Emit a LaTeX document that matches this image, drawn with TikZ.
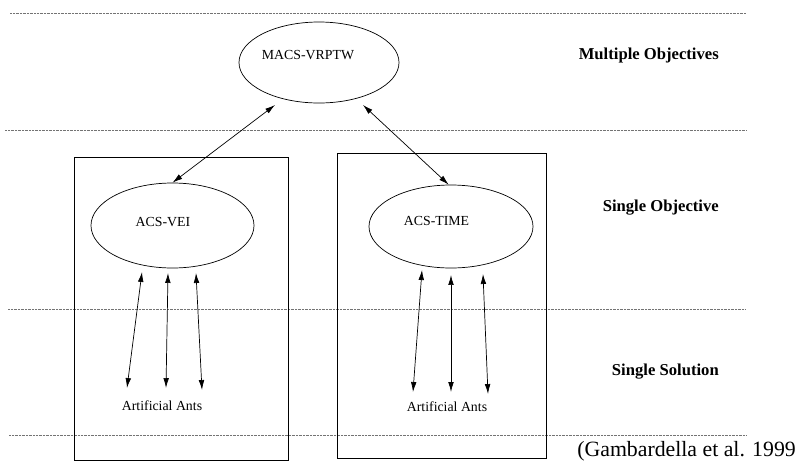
\documentclass[tikz,border=0pt]{standalone}
\usepackage{fontspec}
\setmainfont{Liberation Serif}
\usepackage{xcolor}
\usetikzlibrary{arrows.meta,positioning,shapes}

\tikzset{
    oval/.style={draw, ellipse, line width=0.6pt, inner sep=0pt},
    panel/.style={draw, line width=0.75pt, inner sep=0pt},
    level/.style={dash pattern=on 0.6pt off 0.6pt, line width=0.55pt, color=black!55},
    link/.style={{Latex[length=8.5pt,width=4.8pt]}-{Latex[length=8.5pt,width=4.8pt]}, line width=0.6pt},
    tag/.style={font=\fontsize{14.2}{16}\selectfont\bfseries, anchor=east, inner sep=0pt},
    txt/.style={font=\fontsize{11.8}{13}\selectfont, inner sep=0pt}
}

\begin{document}
\begin{tikzpicture}[x=0.03cm, y=-0.03cm]
                \useasboundingbox (0,0) rectangle (798,465);

                % levels
                \foreach \yy/\xs in {13/10, 130/5, 309/8, 435/9}
                    \draw[level] (\xs,\yy) -- (746,\yy);

                \node [panel, minimum width=6.42cm, minimum height=9.09cm]
                                        (boxL) at (181,308.5) {};
                \node [panel, minimum width=6.27cm, minimum height=9.15cm]
                                        (boxR) at (441.5,305.5) {};

                \node [oval, minimum width=4.8cm, minimum height=2.43cm]
                                        (macs) at (319,62.5) {};
                \node [txt] (macstxt) at (308,55) {MACS-VRPTW};

                \node [oval, minimum width=4.89cm, minimum height=2.55cm]
                                        (vei) at (172.5,225.5) {};
                \node [txt] (veitxt) at (163,222) {ACS-VEI};

                \node [oval, minimum width=4.92cm, minimum height=2.49cm]
                                        (time) at (451,226.5) {};
                \node [txt] (timetxt) at (436.5,221) {ACS-TIME};

                \node [txt] (antsL) at (162,406) {Artificial Ants};
                \node [txt] (antsR) at (447,407) {Artificial Ants};

                \node [tag] (multi) at (719,55) {Multiple Objectives};
                \node [tag] (single) at (719,208) {Single Objective};
                \node [tag] (sol) at (719,372) {Single Solution};
                \node [font=\fontsize{18.6}{20}\selectfont, anchor=east, inner sep=0pt]
                                        (cite) at (796,451) {(Gambardella et al. 1999};

                % objective links
                \coordinate (m1) at (275,105);
                \coordinate (m2) at (363,105);
                \draw[link] (m1) -- (vei.north);
                \draw[link] (m2) -- ([xshift=-2]time.north);

                % ant links
                \foreach \ta/\tb/\ba/\bb in {142/272/127/388, 168/273/166/388, 196/273/202/390,
                                             422/270/413/392, 451/275/451/392, 483/274/488/394}
                    \draw[link] (\ta,\tb) -- (\ba,\bb);
\end{tikzpicture}
\end{document}
